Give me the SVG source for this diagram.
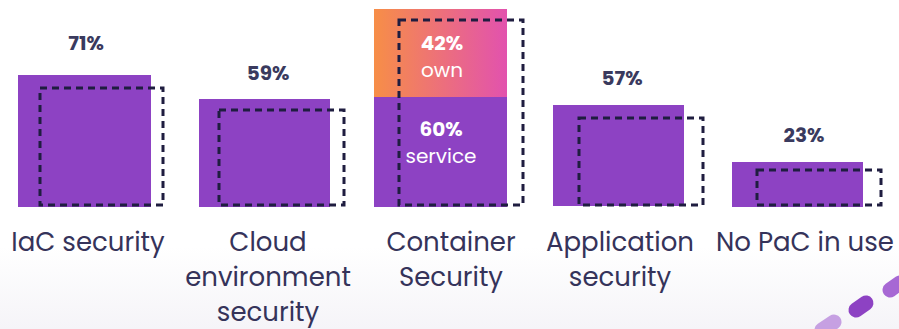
<svg xmlns="http://www.w3.org/2000/svg" width="899" height="329" viewBox="0 0 899 329">
<defs>
<linearGradient id="og" x1="0" y1="0" x2="1" y2="0">
<stop offset="0" stop-color="#f78e47"/>
<stop offset="1" stop-color="#e252ae"/>
</linearGradient>
<linearGradient id="bg" x1="0" y1="0" x2="0" y2="1">
<stop offset="0.75" stop-color="#ffffff"/>
<stop offset="1" stop-color="#f5f4f8"/>
</linearGradient>
</defs>
<style>
.bar{fill:#8d42c3}
.dash{fill:none;stroke:#1f1d40;stroke-width:3;stroke-dasharray:7 5}
.pct{font-family:Poppins,Inter,"Noto Sans",sans-serif;font-weight:700;font-size:20px;fill:#3a3a5e;text-anchor:middle}
.lbl{font-family:Poppins,Inter,"Noto Sans",sans-serif;font-weight:400;font-size:26px;fill:#35335a;text-anchor:middle}
.in{font-family:Poppins,Inter,"Noto Sans",sans-serif;fill:#ffffff;text-anchor:middle;font-size:20px}
</style>
<rect width="899" height="329" fill="url(#bg)"/>
<g id="iac">
<rect class="bar" x="18" y="75" width="133" height="132"/>
<rect class="dash" x="40" y="88" width="123" height="117"/>
<text class="pct" x="86" y="50">71%</text>
<text class="lbl" x="88" y="251">IaC security</text>
</g>
<g id="cloud">
<rect class="bar" x="199" y="99" width="131" height="108"/>
<rect class="dash" x="219" y="110" width="125" height="95"/>
<text class="pct" x="268" y="80">59%</text>
<text class="lbl" x="268" y="251">Cloud</text>
<text class="lbl" x="268" y="286">environment</text>
<text class="lbl" x="268" y="321">security</text>
</g>
<g id="container">
<rect x="374" y="9" width="133" height="88" fill="url(#og)"/>
<rect class="bar" x="374" y="97" width="133" height="110"/>
<rect class="dash" x="399" y="20" width="124" height="185"/>
<text class="in" x="442" y="50" font-weight="700">42%</text>
<text class="in" x="442" y="77">own</text>
<text class="in" x="441" y="136" font-weight="700">60%</text>
<text class="in" x="441" y="163">service</text>
<text class="lbl" x="451" y="251">Container</text>
<text class="lbl" x="451" y="286">Security</text>
</g>
<g id="application">
<rect class="bar" x="553" y="105" width="131" height="101"/>
<rect class="dash" x="579" y="118" width="124" height="87"/>
<text class="pct" x="622" y="85">57%</text>
<text class="lbl" x="620" y="251">Application</text>
<text class="lbl" x="620" y="286">security</text>
</g>
<g id="nopac">
<rect class="bar" x="732" y="162" width="131" height="45"/>
<rect class="dash" x="757" y="170" width="124" height="35"/>
<text class="pct" x="804" y="142">23%</text>
<text class="lbl" x="805" y="251">No PaC in use</text>
</g>
<g id="deco" stroke-linecap="round" stroke-width="15" fill="none">
<line x1="822" y1="330" x2="834" y2="322" stroke="#c6a0e2"/>
<line x1="856" y1="310" x2="866" y2="303" stroke="#8d42c3"/>
<line x1="890" y1="290" x2="900" y2="283" stroke="#a768d4"/>
</g>
</svg>
